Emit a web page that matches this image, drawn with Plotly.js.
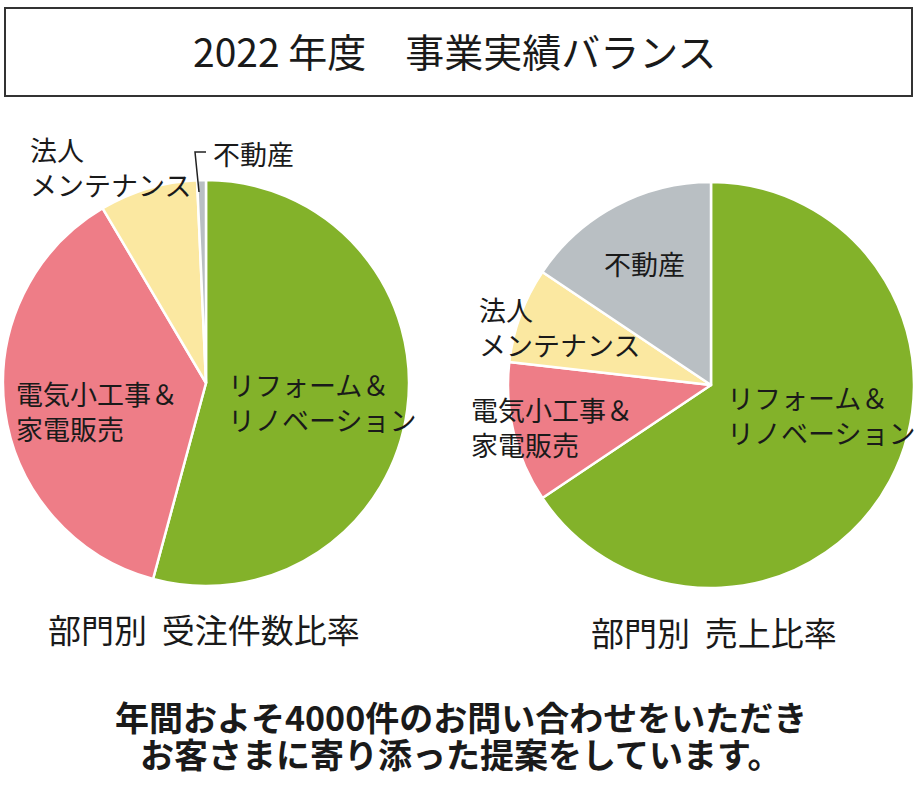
<!DOCTYPE html>
<html>
<head>
<meta charset="utf-8">
<script src="https://cdn.plot.ly/plotly-3.0.1.min.js"></script>
<style>html,body{margin:0;padding:0;background:#fff;}#chart{width:920px;height:800px;}</style>
</head>
<body>
<div id="chart"></div>
<script>
// Data
const categories = ["リフォーム＆リノベーション", "電気小工事＆家電販売", "法人メンテナンス", "不動産"];
const ordersShare = [54.2, 37.3, 7.8, 0.7];   // 部門別 受注件数比率 (%)
const salesShare  = [65.6, 11.2, 7.6, 15.6];  // 部門別 売上比率 (%)
const sliceColors = ["#83b22a", "#ee7d87", "#fbe8a1", "#b9bfc3"];

const W = 920, H = 800;
const px = x => x / W;
const py = y => 1 - y / H;
const FONT = '"Noto Sans CJK JP", "Noto Sans", sans-serif';

function pieTrace(values, x0, x1, yTop, yBot) {
  return {
    type: 'pie',
    labels: categories,
    values: values,
    sort: false,
    direction: 'clockwise',
    rotation: 0,
    textinfo: 'none',
    hoverinfo: 'label+percent',
    marker: {colors: sliceColors, line: {color: '#ffffff', width: 2.5}},
    domain: {x: [px(x0), px(x1)], y: [py(yBot), py(yTop)]}
  };
}

const data = [
  pieTrace(ordersShare, 3, 409, 180, 586),
  pieTrace(salesShare, 508, 914, 182, 588)
];

function ann(text, x, y, size, opts) {
  return Object.assign({
    text: text, xref: 'paper', yref: 'paper', x: px(x), y: py(y),
    xanchor: 'left', yanchor: 'middle', showarrow: false, align: 'left',
    font: {family: FONT, size: size, color: '#1a1a1a'}
  }, opts || {});
}

const annotations = [
  ann("2022 年度　事業実績バランス", 455, 50, 39, {xanchor: 'center'}),
  // left pie labels
  ann("リフォーム＆<br>リノベーション", 226, 402, 27),
  ann("電気小工事＆<br>家電販売", 14, 411, 27),
  ann("法人<br>メンテナンス", 28, 167, 27),
  ann("不動産", 211, 153, 27),
  // right pie labels
  ann("リフォーム＆<br>リノベーション", 725, 415, 27),
  ann("電気小工事＆<br>家電販売", 469, 427, 27),
  ann("法人<br>メンテナンス", 477, 327, 27),
  ann("不動産", 602, 263, 27),
  // subtitles
  ann("部門別  受注件数比率", 204, 629, 33, {xanchor: 'center'}),
  ann("部門別  売上比率", 714, 632, 33, {xanchor: 'center'}),
  // message
  ann("<b>年間およそ4000件のお問い合わせをいただき</b>", 461, 716, 34, {xanchor: 'center'}),
  ann("<b>お客さまに寄り添った提案をしています。</b>", 461, 753, 34, {xanchor: 'center'})
];

const shapes = [
  {type: 'rect', xref: 'paper', yref: 'paper', x0: px(5), x1: px(912), y0: py(96), y1: py(8),
   line: {color: '#333333', width: 2}},
  {type: 'path', xref: 'paper', yref: 'paper',
   path: `M ${px(199)},${py(192)} L ${px(195)},${py(152)} L ${px(206)},${py(152)}`,
   line: {color: '#222222', width: 1.5}}
];

const layout = {
  width: W, height: H,
  margin: {l: 0, r: 0, t: 0, b: 0},
  paper_bgcolor: '#ffffff',
  showlegend: false,
  font: {family: FONT},
  annotations: annotations,
  shapes: shapes
};

Plotly.newPlot('chart', data, layout, {displayModeBar: false, staticPlot: true});
</script>
</body>
</html>
